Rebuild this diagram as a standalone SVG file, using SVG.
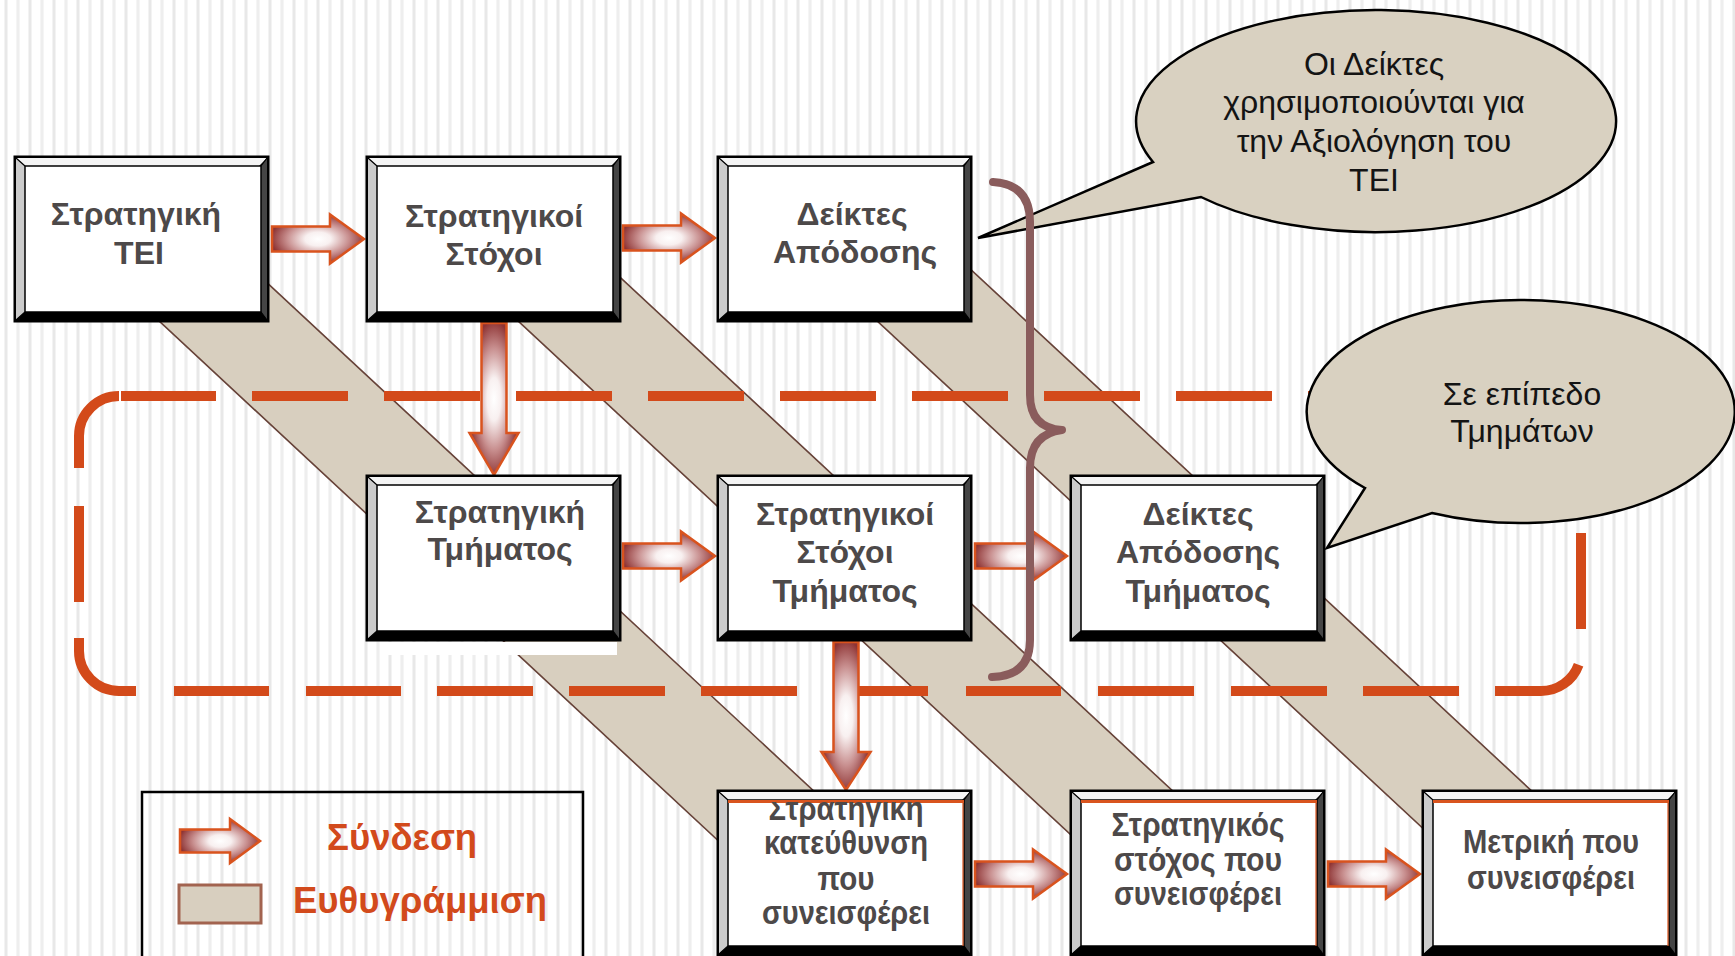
<svg xmlns="http://www.w3.org/2000/svg" width="1735" height="956" viewBox="0 0 1735 956">
  <style>
    .lbl { font-family: "Liberation Sans", Arial, sans-serif; font-weight: bold; font-size: 32px; fill: #4d4949; text-anchor: middle; }
    .lbl3 { font-family: "Liberation Sans", Arial, sans-serif; font-weight: bold; font-size: 33px; fill: #4d4949; text-anchor: middle; }
    .note { font-family: "Liberation Sans", Arial, sans-serif; font-size: 32px; fill: #141414; text-anchor: middle; }
    .legend { font-family: "Liberation Sans", Arial, sans-serif; font-weight: bold; font-size: 36.5px; fill: #d24a1c; }
    .band { fill: #d8cfbf; stroke: none; }
    .bandedge { stroke: #664238; stroke-width: 1.6; fill: none; }
    .link { stroke: #d9531e; stroke-width: 2.5; stroke-linejoin: miter; }
    .dash { fill: none; stroke: #d34a1a; stroke-width: 10; stroke-linecap: butt; }
    .bubble { fill: #d9d1c1; stroke: #000; stroke-width: 2.5; stroke-linejoin: miter; }
    .accent { fill: none; stroke: #d9541e; }
  </style>
  <defs>
    <pattern id="stripes" x="0" y="0" width="24" height="10" patternUnits="userSpaceOnUse">
      <rect x="0" y="0" width="24" height="10" fill="#ffffff"/>
      <rect x="4" y="0" width="1" height="10" fill="#f3f3f3"/>
      <rect x="5" y="0" width="2" height="10" fill="#e8e8e8"/>
      <rect x="7" y="0" width="1" height="10" fill="#f3f3f3"/>
      <rect x="16" y="0" width="1" height="10" fill="#f5f5f5"/>
      <rect x="17" y="0" width="2" height="10" fill="#eeeeee"/>
      <rect x="19" y="0" width="1" height="10" fill="#f5f5f5"/>
    </pattern>
    <radialGradient id="gLink" cx="0.5" cy="0.5" r="0.56">
      <stop offset="0" stop-color="#ffffff"/>
      <stop offset="0.25" stop-color="#f8f0f0"/>
      <stop offset="0.6" stop-color="#c88f8f"/>
      <stop offset="0.92" stop-color="#8e3434"/>
    </radialGradient>
    <!-- bevelled box frame, 257 x 168 -->
    <g id="bevel">
      <rect x="0.5" y="0.5" width="256" height="167" fill="#000"/>
      <polygon points="3,3 254,3 246,11 12,11" fill="#f4f4f4"/>
      <polygon points="3,3 12,11 12,157 3,165" fill="#cbcbcb"/>
      <polygon points="254,3 254,165 248,157 248,11" fill="#454545"/>
      <path d="M3 3 L12 11 M254 3 L248 11 M3 165 L12 157 M254 165 L248 157" stroke="#000" stroke-width="1.2"/>
      <rect x="12" y="11" width="236" height="146" fill="#ffffff" stroke="#000" stroke-width="1.5"/>
    </g>
    <path id="arrowH" d="M0 -12.5 H58 V-24.5 L92 0 L58 24.5 V12.5 H0 Z"/>
    <clipPath id="clip7">
      <rect x="728" y="802" width="233" height="154"/>
    </clipPath>
  </defs>

  <!-- striped background -->
  <rect x="0" y="0" width="1735" height="956" fill="url(#stripes)"/>

  <!-- alignment bands -->
  <g id="alignment">
    <polygon class="band" points="72,240 221,240 931,900 782,900"/>
    <path class="bandedge" d="M72 240 L782 900 M221 240 L931 900"/>
    <polygon class="band" points="431,240 580,240 1290,900 1141,900"/>
    <path class="bandedge" d="M431 240 L1141 900 M580 240 L1290 900"/>
    <polygon class="band" points="790,240 939,240 1649,900 1500,900"/>
    <path class="bandedge" d="M790 240 L1500 900 M939 240 L1649 900"/>
  </g>

  <!-- department level frame -->
  <g id="department-frame">
    <path class="dash" d="M79 468 V436 A40 40 0 0 1 119 396
      M121 396 H216 M252 396 H348 M384 396 H480 M516 396 H612 M648 396 H744 M780 396 H876
      M912 396 H1008 M1044 396 H1140 M1176 396 H1272 M1308 396 H1404 M1440 396 H1536
      M1581 401 V497 M1581 533 V629
      M1578.6 664.7 A40 40 0 0 1 1541 691 H1495
      M1459 691 H1363 M1327 691 H1231 M1194 691 H1098 M1061 691 H966 M928 691 H833
      M797 691 H701 M665 691 H569 M533 691 H437 M401 691 H306 M269 691 H174
      M136 691 H119 A40 40 0 0 1 79 651 V638
      M79 602 V506"/>
  </g>

  <!-- white strip under the department strategy box -->
  <rect x="383" y="642" width="234" height="13" fill="#ffffff"/>

  <!-- links -->
  <g id="connectors" fill="url(#gLink)">
    <use href="#arrowH" class="link" transform="translate(272,239)"/>
    <use href="#arrowH" class="link" transform="translate(623,238)"/>
    <use href="#arrowH" class="link" transform="translate(623,556)"/>
    <use href="#arrowH" class="link" transform="translate(975,556)"/>
    <use href="#arrowH" class="link" transform="translate(975,874)"/>
    <use href="#arrowH" class="link" transform="translate(1328,874)"/>
    <path class="link" d="M481.5 323 H506.5 V433 H518.5 L494 475 L469.5 433 H481.5 Z"/>
    <path class="link" d="M833.5 642 H858.5 V752 H870.5 L846 790 L821.5 752 H833.5 Z"/>
  </g>

  <!-- institution level -->
  <g id="node-strategy-tei">
    <use href="#bevel" x="13" y="155"/>
    <text class="lbl" x="136" y="225">Στρατηγική</text>
    <text class="lbl" x="139" y="264">ΤΕΙ</text>
  </g>
  <g id="node-goals-tei">
    <use href="#bevel" x="365" y="155"/>
    <text class="lbl" x="494" y="227">Στρατηγικοί</text>
    <text class="lbl" x="494" y="265">Στόχοι</text>
  </g>
  <g id="node-kpi-tei">
    <use href="#bevel" x="716" y="155"/>
    <text class="lbl" x="852" y="225">Δείκτες</text>
    <text class="lbl" x="855" y="263">Απόδοσης</text>
  </g>

  <!-- department level -->
  <g id="node-strategy-dept">
    <use href="#bevel" x="365" y="474"/>
    <text class="lbl" x="500" y="523">Στρατηγική</text>
    <text class="lbl" x="500" y="560">Τμήματος</text>
  </g>
  <g id="node-goals-dept">
    <use href="#bevel" x="716" y="474"/>
    <text class="lbl" x="845" y="525">Στρατηγικοί</text>
    <text class="lbl" x="845" y="563">Στόχοι</text>
    <text class="lbl" x="845" y="602">Τμήματος</text>
  </g>
  <g id="node-kpi-dept">
    <use href="#bevel" x="1069" y="474"/>
    <text class="lbl" x="1198" y="525">Δείκτες</text>
    <text class="lbl" x="1198" y="563">Απόδοσης</text>
    <text class="lbl" x="1198" y="602">Τμήματος</text>
  </g>

  <!-- contributing level -->
  <g id="node-direction">
    <use href="#bevel" x="716" y="789"/>
    <path class="accent" stroke-width="3" d="M728 801.5 H964"/>
    <path class="accent" stroke-width="1.2" d="M963 801 V946"/>
    <g clip-path="url(#clip7)">
      <text class="lbl3" x="846" y="820" textLength="155" lengthAdjust="spacingAndGlyphs">Στρατηγική</text>
      <text class="lbl3" x="846" y="854" textLength="164" lengthAdjust="spacingAndGlyphs">κατεύθυνση</text>
      <text class="lbl3" x="846" y="890" textLength="57" lengthAdjust="spacingAndGlyphs">που</text>
      <text class="lbl3" x="846" y="924" textLength="168" lengthAdjust="spacingAndGlyphs">συνεισφέρει</text>
    </g>
  </g>
  <g id="node-goal-contrib">
    <use href="#bevel" x="1069" y="789"/>
    <path class="accent" stroke-width="3" d="M1081 801.5 H1317"/>
    <path class="accent" stroke-width="1.2" d="M1316 801 V946"/>
    <text class="lbl3" x="1198" y="836" textLength="173" lengthAdjust="spacingAndGlyphs">Στρατηγικός</text>
    <text class="lbl3" x="1198" y="871" textLength="168" lengthAdjust="spacingAndGlyphs">στόχος που</text>
    <text class="lbl3" x="1198" y="905" textLength="168" lengthAdjust="spacingAndGlyphs">συνεισφέρει</text>
  </g>
  <g id="node-metric">
    <use href="#bevel" x="1421" y="789"/>
    <path class="accent" stroke-width="3" d="M1433 801.5 H1669"/>
    <path class="accent" stroke-width="1.2" d="M1668 801 V946"/>
    <text class="lbl3" x="1551" y="853" textLength="176" lengthAdjust="spacingAndGlyphs">Μετρική που</text>
    <text class="lbl3" x="1551" y="889" textLength="168" lengthAdjust="spacingAndGlyphs">συνεισφέρει</text>
  </g>

  <!-- callouts -->
  <g id="callout-tei">
    <path class="bubble" d="M1153 162 L978 238 L1201 197 A240 111 0 1 0 1153 162 Z"/>
    <text class="note" x="1374" y="75">Οι Δείκτες</text>
    <text class="note" x="1374" y="113">χρησιμοποιούνται για</text>
    <text class="note" x="1374" y="152">την Αξιολόγηση του</text>
    <text class="note" x="1374" y="191">ΤΕΙ</text>
  </g>
  <g id="callout-dept">
    <path class="bubble" d="M1365 488 L1327 548 L1432 513 A214 111.5 0 1 0 1365 488 Z"/>
    <text class="note" x="1522" y="405">Σε επίπεδο</text>
    <text class="note" x="1522" y="442">Τμημάτων</text>
  </g>

  <!-- brace grouping the indicator boxes -->
  <g id="brace">
    <path d="M993 182 Q1030 184 1030 222 V395 Q1030 428 1062 430 Q1030 434 1030 468 V640 Q1030 676 992 677"
          fill="none" stroke="#8a5c5c" stroke-width="8" stroke-linecap="round" stroke-linejoin="round"/>
  </g>

  <!-- legend -->
  <g id="legend">
    <rect x="142" y="792" width="441" height="180" fill="none" stroke="#000" stroke-width="2.5"/>
    <path class="link" fill="url(#gLink)" d="M180 829.5 H230 V819 L260 841 L230 863 V852.5 H180 Z"/>
    <text class="legend" x="327" y="850">Σύνδεση</text>
    <rect x="179" y="885" width="82" height="38" fill="#d8cfbf" stroke="#a2634f" stroke-width="3"/>
    <text class="legend" x="293" y="913">Ευθυγράμμιση</text>
  </g>
</svg>
